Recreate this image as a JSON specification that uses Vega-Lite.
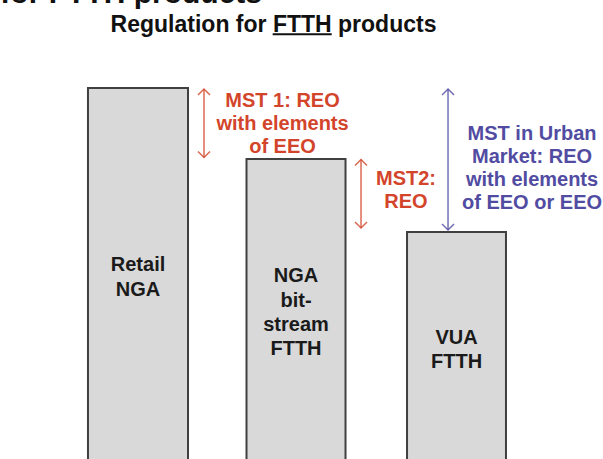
{
  "$schema": "https://vega.github.io/schema/vega-lite/v6.json",
  "autosize": {"type": "none"},
  "width": 603,
  "height": 459,
  "padding": 0,
  "background": "white",
  "config": {"view": {"stroke": null}},
  "datasets": {
    "bars": [
      {"product": "Retail NGA", "left": 14.59, "right": 31.18, "level": 80.83},
      {"product": "NGA bitstream FTTH", "left": 40.88, "right": 57.30, "level": 65.36},
      {"product": "VUA FTTH", "left": 67.50, "right": 83.91, "level": 49.46}
    ],
    "barLabels": [
      {"label": "Retail\nNGA", "cx": 22.89, "ly": 40.85},
      {"label": "NGA\nbit-\nstream\nFTTH", "cx": 49.09, "ly": 38.50},
      {"label": "VUA\nFTTH", "cx": 75.71, "ly": 25.05}
    ],
    "notes": [
      {"label": "MST 1: REO\nwith elements\nof EEO", "cx": 46.85, "ly": 76.75, "regime": "MST"},
      {"label": "MST2:\nREO", "cx": 67.33, "ly": 59.69, "regime": "MST"},
      {"label": "MST in Urban\nMarket: REO\nwith elements\nof EEO or EEO", "cx": 88.23, "ly": 69.50, "regime": "Urban"}
    ],
    "arrows": [
      {"ax": 33.83, "from": 80.61, "to": 65.69, "regime": "MST"},
      {"ax": 59.87, "from": 65.25, "to": 50.33, "regime": "MST"},
      {"ax": 74.30, "from": 80.61, "to": 49.89, "regime": "Urban"}
    ],
    "headings": [
      {"label": "Regulation for FTTH products", "cx": 45.36, "ly": 93.03, "kind": "subtitle"},
      {"label": "for FTTH products", "cx": 43.45, "ly": 99.24, "kind": "clipped"}
    ],
    "underline": [
      {"u0": 45.22, "u1": 55.01, "uy": 92.55}
    ]
  },
  "layer": [
    {
      "data": {"name": "bars"},
      "mark": {"type": "rect", "fill": "#d9d9d9", "stroke": "#404040", "strokeWidth": 2},
      "encoding": {
        "x": {"field": "left", "type": "quantitative", "scale": {"domain": [0, 100], "nice": false, "zero": false}, "axis": null},
        "x2": {"field": "right"},
        "y": {"field": "level", "type": "quantitative", "scale": {"domain": [0, 100], "nice": false, "zero": false}, "axis": null},
        "y2": {"datum": -2}
      }
    },
    {
      "data": {"name": "barLabels"},
      "mark": {"type": "text", "font": "Liberation Sans", "fontWeight": "bold", "fontSize": 20, "align": "center", "baseline": "alphabetic", "lineBreak": "\n", "lineHeight": 24.3, "color": "#1a1a1a"},
      "encoding": {
        "x": {"field": "cx", "type": "quantitative", "scale": {"domain": [0, 100], "nice": false, "zero": false}, "axis": null},
        "y": {"field": "ly", "type": "quantitative", "scale": {"domain": [0, 100], "nice": false, "zero": false}, "axis": null},
        "text": {"field": "label"}
      }
    },
    {
      "data": {"name": "arrows"},
      "mark": {"type": "rule", "strokeWidth": 1.5, "opacity": 0.8},
      "encoding": {
        "x": {"field": "ax", "type": "quantitative", "scale": {"domain": [0, 100], "nice": false, "zero": false}, "axis": null},
        "y": {"field": "from", "type": "quantitative", "scale": {"domain": [0, 100], "nice": false, "zero": false}, "axis": null},
        "y2": {"field": "to"},
        "color": {"field": "regime", "type": "nominal", "scale": {"domain": ["MST", "Urban"], "range": ["#d3452b", "#514ca2"]}, "legend": null}
      }
    },
    {
      "data": {"name": "arrows"},
      "mark": {"type": "point", "shape": "M-1,1L0,0L1,1", "filled": false, "size": 144, "strokeWidth": 1.5, "opacity": 0.8},
      "encoding": {
        "x": {"field": "ax", "type": "quantitative", "scale": {"domain": [0, 100], "nice": false, "zero": false}, "axis": null},
        "y": {"field": "from", "type": "quantitative", "scale": {"domain": [0, 100], "nice": false, "zero": false}, "axis": null},
        "color": {"field": "regime", "type": "nominal", "scale": {"domain": ["MST", "Urban"], "range": ["#d3452b", "#514ca2"]}, "legend": null}
      }
    },
    {
      "data": {"name": "arrows"},
      "mark": {"type": "point", "shape": "M-1,-1L0,0L1,-1", "filled": false, "size": 144, "strokeWidth": 1.5, "opacity": 0.8},
      "encoding": {
        "x": {"field": "ax", "type": "quantitative", "scale": {"domain": [0, 100], "nice": false, "zero": false}, "axis": null},
        "y": {"field": "to", "type": "quantitative", "scale": {"domain": [0, 100], "nice": false, "zero": false}, "axis": null},
        "color": {"field": "regime", "type": "nominal", "scale": {"domain": ["MST", "Urban"], "range": ["#d3452b", "#514ca2"]}, "legend": null}
      }
    },
    {
      "data": {"name": "notes"},
      "mark": {"type": "text", "font": "Liberation Sans", "fontWeight": "bold", "fontSize": 20, "align": "center", "baseline": "alphabetic", "lineBreak": "\n", "lineHeight": 23},
      "encoding": {
        "x": {"field": "cx", "type": "quantitative", "scale": {"domain": [0, 100], "nice": false, "zero": false}, "axis": null},
        "y": {"field": "ly", "type": "quantitative", "scale": {"domain": [0, 100], "nice": false, "zero": false}, "axis": null},
        "text": {"field": "label"},
        "color": {"field": "regime", "type": "nominal", "scale": {"domain": ["MST", "Urban"], "range": ["#d3452b", "#514ca2"]}, "legend": null}
      }
    },
    {
      "data": {"name": "headings"},
      "transform": [{"filter": "datum.kind === 'subtitle'"}],
      "mark": {"type": "text", "font": "Liberation Sans", "fontWeight": "bold", "fontSize": 23, "align": "center", "baseline": "alphabetic", "color": "#111111"},
      "encoding": {
        "x": {"field": "cx", "type": "quantitative", "scale": {"domain": [0, 100], "nice": false, "zero": false}, "axis": null},
        "y": {"field": "ly", "type": "quantitative", "scale": {"domain": [0, 100], "nice": false, "zero": false}, "axis": null},
        "text": {"field": "label"}
      }
    },
    {
      "data": {"name": "headings"},
      "transform": [{"filter": "datum.kind === 'clipped'"}],
      "mark": {"type": "text", "font": "Liberation Sans", "fontWeight": "bold", "fontSize": 30, "align": "right", "baseline": "alphabetic", "color": "#111111"},
      "encoding": {
        "x": {"field": "cx", "type": "quantitative", "scale": {"domain": [0, 100], "nice": false, "zero": false}, "axis": null},
        "y": {"field": "ly", "type": "quantitative", "scale": {"domain": [0, 100], "nice": false, "zero": false}, "axis": null},
        "text": {"field": "label"}
      }
    },
    {
      "data": {"name": "underline"},
      "mark": {"type": "rule", "strokeWidth": 2, "color": "#111111"},
      "encoding": {
        "x": {"field": "u0", "type": "quantitative", "scale": {"domain": [0, 100], "nice": false, "zero": false}, "axis": null},
        "x2": {"field": "u1"},
        "y": {"field": "uy", "type": "quantitative", "scale": {"domain": [0, 100], "nice": false, "zero": false}, "axis": null}
      }
    }
  ]
}
